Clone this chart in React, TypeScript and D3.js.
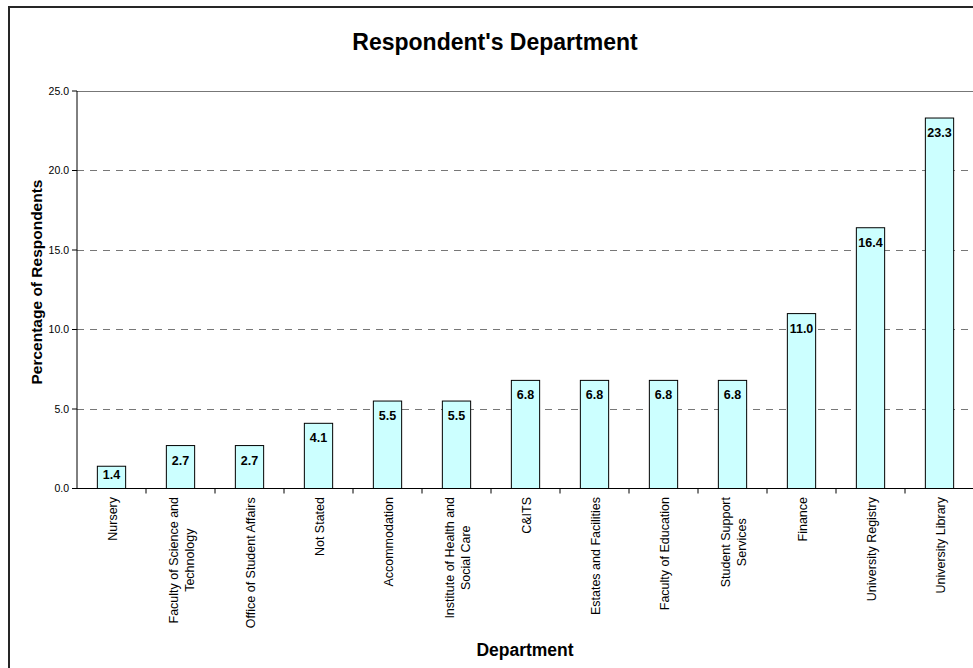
import React, { useMemo } from 'react';
import * as d3 from 'd3';

const categories: string[][] = [
  ['Nursery'],
  ['Faculty of Science and', 'Technology'],
  ['Office of Student Affairs'],
  ['Not Stated'],
  ['Accommodation'],
  ['Institute of Health and', 'Social Care'],
  ['C&ITS'],
  ['Estates and Facilities'],
  ['Faculty of Education'],
  ['Student Support', 'Services'],
  ['Finance'],
  ['University Registry'],
  ['University Library'],
];
const values: number[] = [1.4, 2.7, 2.7, 4.1, 5.5, 5.5, 6.8, 6.8, 6.8, 6.8, 11.0, 16.4, 23.3];
const yTicks: number[] = [0, 5, 10, 15, 20, 25];
const title = "Respondent's Department";
const xTitle = 'Department';
const yTitle = 'Percentage of Respondents';

const W = 973;
const H = 668;
const FONT = "'Liberation Sans', Arial, Helvetica, sans-serif";

export default function App() {
  const keys = categories.map((c) => c.join(' '));
  const x = d3.scaleBand<string>().domain(keys).range([77, 974]).padding(0);
  const y = d3.scaleLinear().domain([0, 25]).range([488.5, 91]);
  const fmt = d3.format('.1f');
  const barW = x.bandwidth() * 0.41;

  const measure = useMemo(() => {
    const canvas = document.createElement('canvas');
    const ctx = canvas.getContext('2d')!;
    ctx.font = `12.5px ${FONT}`;
    return (s: string) => ctx.measureText(s).width;
  }, []);

  return (
    <svg
      width={W}
      height={H}
      style={{ position: 'absolute', left: 0, top: 0, display: 'block', background: '#fff' }}
      fontFamily={FONT}
    >
      <rect x={0} y={0} width={W} height={H} fill="#fff" />
      {/* chart frame (top and left edges visible) */}
      <path d={`M9,${H + 10} L9,7 L${W + 10},7`} fill="none" stroke="#262626" strokeWidth={2} />

      {/* title */}
      <text x={495} y={50} textAnchor="middle" fontSize={23} fontWeight="bold" fill="#000">
        {title}
      </text>

      {/* gridlines */}
      {yTicks.filter((t) => t > 0).map((t) => (
        <line
          key={'g' + t}
          x1={77}
          x2={974}
          y1={Math.round(y(t)) + 0.5}
          y2={Math.round(y(t)) + 0.5}
          stroke="#777"
          strokeWidth={1}
          strokeDasharray={t === 25 ? undefined : '7,6'}
        />
      ))}

      {/* bars */}
      {values.map((v, i) => {
        const cx = (x(keys[i]) as number) + x.bandwidth() / 2;
        const top = y(v);
        const bottom = y(0);
        const labelY = Math.min(top + 19, bottom - 9.5);
        return (
          <g key={'b' + i}>
            <rect
              x={cx - barW / 2}
              y={top}
              width={barW}
              height={bottom - top}
              fill="#CCFFFF"
              stroke="#000"
              strokeWidth={1}
            />
            <text x={cx} y={labelY} textAnchor="middle" fontSize={12.5} fontWeight="bold" fill="#000">
              {fmt(v)}
            </text>
          </g>
        );
      })}

      {/* axes */}
      <line x1={77} x2={77} y1={91} y2={y(0)} stroke="#000" strokeWidth={1} />
      <line x1={77} x2={974} y1={y(0)} y2={y(0)} stroke="#000" strokeWidth={1} />

      {/* y ticks */}
      {yTicks.map((t) => (
        <g key={'yt' + t}>
          <line x1={72} x2={77} y1={y(t)} y2={y(t)} stroke="#000" strokeWidth={1} />
          <text x={69} y={y(t)} dy="0.35em" textAnchor="end" fontSize={10.5} fill="#000">
            {fmt(t)}
          </text>
        </g>
      ))}

      {/* x ticks */}
      {keys.slice(1).map((k) => (
        <line
          key={'xt' + k}
          x1={x(k) as number}
          x2={x(k) as number}
          y1={y(0)}
          y2={y(0) + 5}
          stroke="#000"
          strokeWidth={1}
        />
      ))}

      {/* x labels */}
      {categories.map((lines, i) => {
        const cx = (x(keys[i]) as number) + x.bandwidth() / 2;
        const maxW = Math.max(...lines.map(measure));
        const cy = 497 + maxW / 2;
        const n = lines.length;
        return (
          <g key={'xl' + i}>
            {lines.map((ln, j) => {
              const bx = cx + 5 + (j - (n - 1) / 2) * 16;
              return (
                <text
                  key={j}
                  transform={`translate(${bx},${cy}) rotate(-90)`}
                  textAnchor="middle"
                  fontSize={12.5}
                  fill="#000"
                >
                  {ln}
                </text>
              );
            })}
          </g>
        );
      })}

      {/* axis titles */}
      <text
        transform={`translate(42,282) rotate(-90)`}
        textAnchor="middle"
        fontSize={15.5}
        fontWeight="bold"
        fill="#000"
      >
        {yTitle}
      </text>
      <text x={525} y={656} textAnchor="middle" fontSize={17.5} fontWeight="bold" fill="#000">
        {xTitle}
      </text>
    </svg>
  );
}
